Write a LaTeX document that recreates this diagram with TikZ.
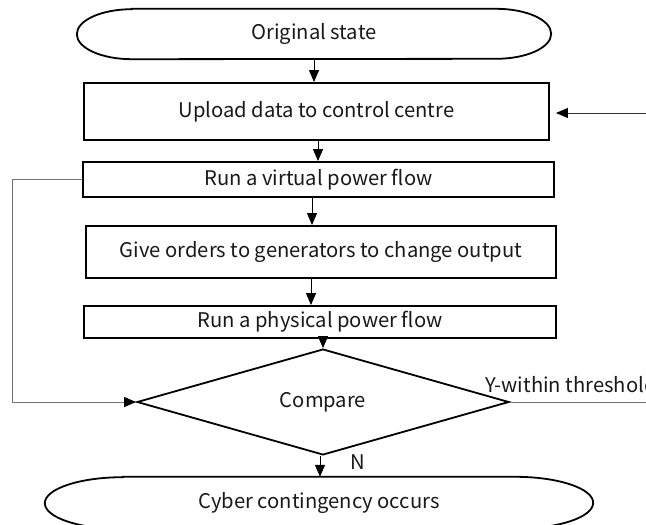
\documentclass[tikz,border=0pt]{standalone}
\usepackage{fontspec}
\setmainfont{Noto Sans CJK SC}
\usetikzlibrary{positioning,shapes.geometric,arrows.meta,calc}

\tikzset{
  txt/.style={font=\fontsize{20.2}{23}\selectfont, text=black!90},
  procbox/.style={txt, draw, line width=1.8pt, inner sep=0pt},
  termnode/.style={txt, inner sep=0pt},
  termline/.style={line width=1.8pt},
  decide/.style={txt, diamond, draw, line width=1.8pt, inner sep=0pt,
    minimum width=372pt, minimum height=70pt},
  arr/.style={-{Triangle[length=12pt,width=10pt,color=black]}, line width=1pt},
  fbline/.style={draw=black!55, line width=1pt},
}

\begin{document}
\begin{tikzpicture}[x=1pt, y=-1pt]
			\clip (0,0) rectangle (646,525);
			% terminators
			\node[termnode, minimum width=364pt, minimum height=50pt] (orig) at (314,34) {Original state};
			\draw[termline] (orig.north west) -- (orig.north east)
				arc[start angle=90, end angle=-90, x radius=55pt, y radius=25pt] -- (orig.south west)
				arc[start angle=270, end angle=90, x radius=55pt, y radius=25pt] -- cycle;
			\node[termnode, minimum width=392pt, minimum height=52pt] (cyber) at (319,503) {Cyber contingency occurs};
			\draw[termline] (cyber.north west) -- (cyber.north east)
				arc[start angle=90, end angle=-90, x radius=78pt, y radius=26pt] -- (cyber.south west)
				arc[start angle=270, end angle=90, x radius=78pt, y radius=26pt] -- cycle;
			% process steps
			\node[procbox, minimum width=465pt, minimum height=57pt] (upload) at (316.5,111.5) {Upload data to control centre};
			\node[procbox, minimum width=471pt, minimum height=35pt] (virt) at (318.5,179.5) {Run a virtual power flow};
			\node[procbox, minimum width=470pt, minimum height=52pt] (orders) at (321,252) {Give orders to generators to change output};
			\node[procbox, minimum width=472pt, minimum height=32pt] (phys) at (320,322) {Run a physical power flow};
			\node[decide] (cmp) at (323,402) {Compare};
			% main flow
			\draw[arr] (orig.south) -- (orig.south |- upload.north);
			\draw[arr] ([xshift=1.5pt]upload.south) -- ([xshift=1.5pt]upload.south |- virt.north);
			\draw[arr] ([xshift=-6.5pt]virt.south) -- ([xshift=-6.5pt]virt.south |- orders.north);
			\draw[arr] ([xshift=-10pt]orders.south) -- ([xshift=-10pt]orders.south |- phys.north);
			\draw[arr] (phys.south -| cmp.north) -- (cmp.north);
			\draw[arr] ([xshift=-3pt]cmp.south) -- ([xshift=-3pt]cmp.south |- cyber.north);
			\node[txt] (nlab) at (358,462) {N};
			% feedback and outputs
			\draw[fbline, arr] (virt.west) -- ++(-70,0) |- (cmp.west);
			\coordinate (ext) at (646,113);
			\draw[arr, draw=black!80, shorten >=6pt] (ext) -- (ext -| upload.east);
			\coordinate (yout) at (646,402);
			\draw[fbline] (cmp.east) -- (yout);
			\node[txt, anchor=west] (ylab) at (482,385) {Y-within threshold};
		\end{tikzpicture}
\end{document}
